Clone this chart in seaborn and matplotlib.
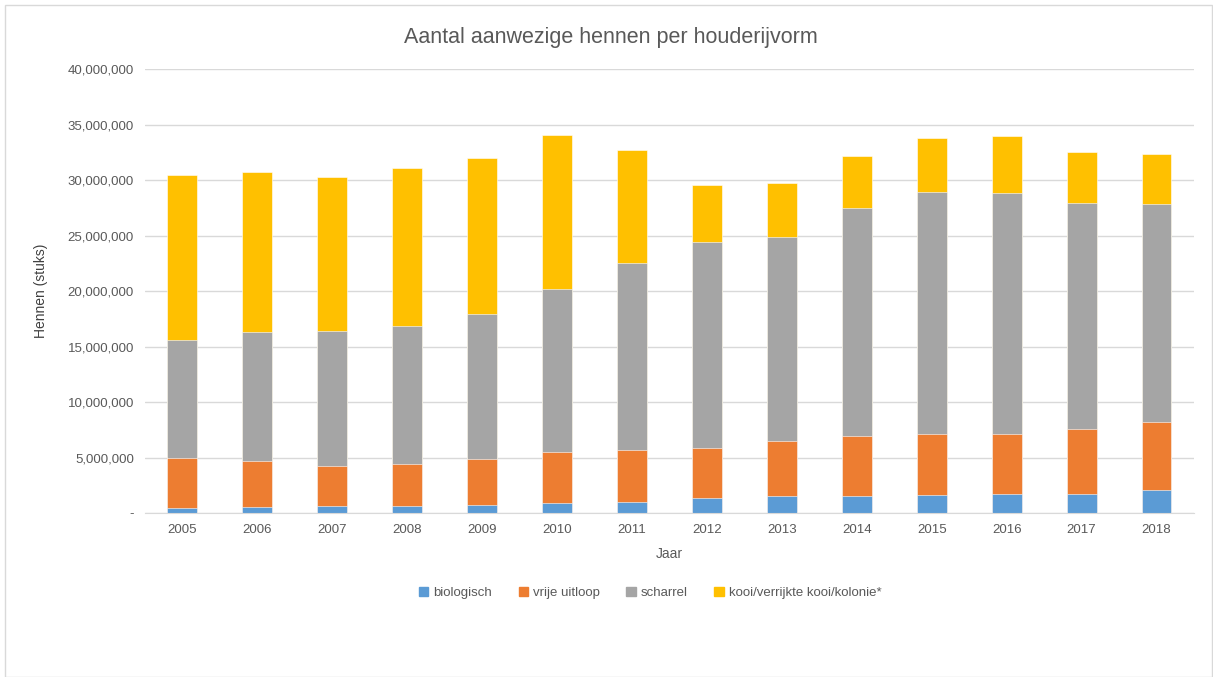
import numpy as np
import pandas as pd
import matplotlib
matplotlib.use("Agg")
import matplotlib.pyplot as plt
import matplotlib.patches as mpatches
from matplotlib.ticker import FuncFormatter
import seaborn as sns

years = ['2005', '2006', '2007', '2008', '2009', '2010', '2011',
         '2012', '2013', '2014', '2015', '2016', '2017', '2018']
biologisch = [420000, 570000, 630000, 660000, 750000, 900000, 1020000,
              1350000, 1500000, 1500000, 1650000, 1740000, 1740000, 2040000]
vrije_uitloop = [4510000, 4150000, 3640000, 3760000, 4120000, 4640000, 4670000,
                 4490000, 5000000, 5450000, 5450000, 5420000, 5870000, 6120000]
scharrel = [10630000, 11580000, 12110000, 12440000, 13100000, 14630000, 16800000,
            18550000, 18400000, 20540000, 21800000, 21680000, 20330000, 19720000]
kooi = [14910000, 14470000, 13880000, 14270000, 14060000, 13850000, 10240000,
        5150000, 4870000, 4700000, 4910000, 5150000, 4550000, 4460000]

series_names = ['biologisch', 'vrije uitloop', 'scharrel', 'kooi/verrijkte kooi/kolonie*']
colors = ['#5b9bd5', '#ed7d31', '#a5a5a5', '#ffc000']

sns.set_style('white')
plt.rcParams['font.family'] = ['Liberation Sans', 'DejaVu Sans']

df = pd.DataFrame({'Jaar': years, 'biologisch': biologisch, 'vrije uitloop': vrije_uitloop,
                   'scharrel': scharrel, 'kooi/verrijkte kooi/kolonie*': kooi})
# cumulative tops, drawn from the largest down so they look stacked
cum = df[series_names].cumsum(axis=1)

fig = plt.figure(figsize=(12.13, 6.77), dpi=100)
ax = fig.add_axes([0.1195, 0.2422, 0.8648, 0.6558])

for name, col in reversed(list(zip(series_names, colors))):
    sns.barplot(x=df['Jaar'], y=cum[name], color=col, width=0.4, ax=ax,
                saturation=1, edgecolor='white', linewidth=0.4, zorder=2)

ax.set_ylim(0, 40000000)
ax.set_yticks(np.arange(0, 40000001, 5000000))
ax.yaxis.set_major_formatter(FuncFormatter(lambda v, p: '-' if v == 0 else f'{int(v):,}'))
ax.grid(axis='y', color='#d9d9d9', linewidth=1, zorder=0)
ax.set_axisbelow(True)
for s in ['top', 'right', 'left']:
    ax.spines[s].set_visible(False)
ax.spines['bottom'].set_color('#d9d9d9')
ax.tick_params(axis='both', length=0, colors='#595959', labelsize=9.5, pad=8)

fig.text(0.504, 0.945, 'Aantal aanwezige hennen per houderijvorm', fontsize=15.5,
         color='#595959', ha='center', va='center')
ax.set_xlabel('Jaar', fontsize=10, color='#595959', labelpad=8)
ax.set_ylabel('Hennen (stuks)', fontsize=10, color='#404040', labelpad=14)

handles = [mpatches.Patch(color=c, label=n) for n, c in zip(series_names, colors)]
fig.legend(handles=handles, loc='center', bbox_to_anchor=(0.536, 0.124), ncol=4,
           frameon=False, fontsize=9.5, handlelength=0.7, handleheight=0.7,
           handletextpad=0.4, columnspacing=2.0, labelcolor='#595959')

fig.patches.append(mpatches.Rectangle((0.004, 0.0), 0.995, 0.993, transform=fig.transFigure,
                                      fill=False, edgecolor='#d9d9d9', linewidth=1))

fig.savefig('out.png', dpi=100)
